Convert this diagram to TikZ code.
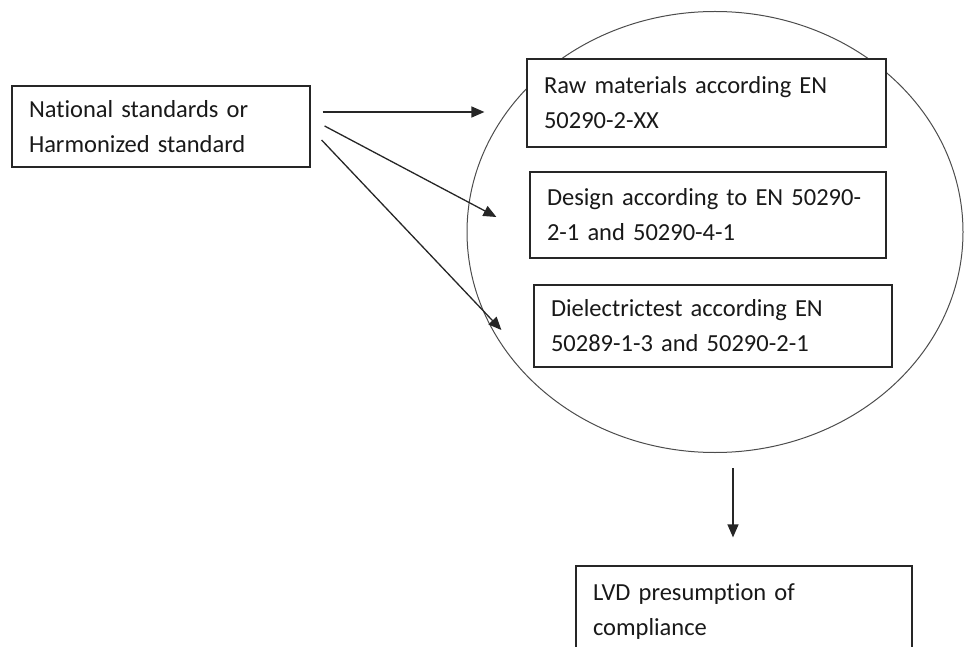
\documentclass[tikz,border=0pt]{standalone}
\usepackage{fontspec}
\setmainfont{Carlito}[Ligatures={NoCommon}]
\usetikzlibrary{arrows.meta,shapes.geometric}

\tikzset{
    stdbox/.style={rectangle, draw=black!85, line width=1.2pt, fill=white, align=left,
        inner xsep=17pt, text=black!90, font=\fontsize{24.5}{35}\selectfont},
    stdarrow/.style={-{Triangle[length=13pt,width=11pt]}, line width=1.3pt, draw=black!85},
}

\begin{document}
\begin{tikzpicture}[x=1pt,y=-1pt]
                    \clip (0,0) rectangle (964,647);

                    \node[ellipse, draw=black!70, line width=1pt, inner sep=0pt,
                        minimum width=496pt, minimum height=441pt] (scope) at (715,232) {};

                    \node[stdbox, minimum width=298pt, minimum height=81pt, text width=264pt] (nat) at (161,126.5)
                        {National standards or\\Harmonized standard};
                    \node[stdbox, minimum width=359pt, minimum height=88pt, text width=325pt] (raw) at (706.5,103)
                        {Raw materials according EN\\50290-2-XX};
                    \node[stdbox, minimum width=356pt, minimum height=86pt, text width=322pt] (design) at (708,215)
                        {Design according to EN 50290-\\2-1 and 50290-4-1};
                    \node[stdbox, minimum width=358pt, minimum height=82pt, text width=324pt] (diel) at (713,326)
                        {Dielectrictest according EN\\50289-1-3 and 50290-2-1};
                    \node[stdbox, minimum width=336pt, minimum height=92pt, text width=302pt] (lvd) at (744,612)
                        {LVD presumption of\\compliance};

                    \coordinate (NatRaw) at ([shift={(12,-14.5)}]nat.east);
                    \coordinate (NatDes) at ([shift={(14,-0.5)}]nat.east);
                    \coordinate (NatDie) at ([shift={(11,13.5)}]nat.east);
                    \coordinate (RawIn) at ([shift={(-42,9)}]raw.west);
                    \coordinate (DesIn) at ([shift={(-33,2)}]design.west);
                    \coordinate (DieIn) at ([shift={(-32,4)}]diel.west);
                    \coordinate (ScopeOut) at ([shift={(18,15)}]scope.south);
                    \coordinate (LvdIn) at ([shift={(-11,-28)}]lvd.north);

                    \draw[stdarrow] (NatRaw) -- (RawIn);
                    \draw[stdarrow] (NatDes) -- (DesIn);
                    \draw[stdarrow] (NatDie) -- (DieIn);
                    \draw[stdarrow] (ScopeOut) -- (LvdIn);

\end{tikzpicture}
\end{document}
